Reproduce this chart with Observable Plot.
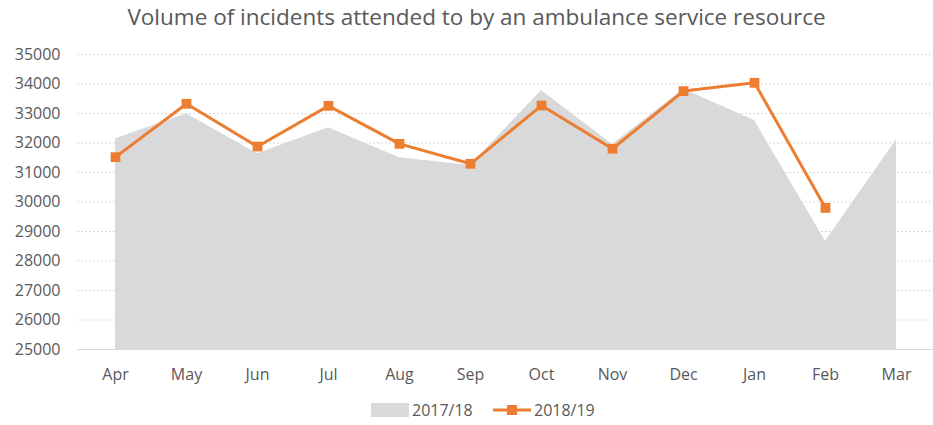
<!DOCTYPE html>
<html><head><meta charset="utf-8">
<script src="https://cdn.jsdelivr.net/npm/d3@7"></script>
<script src="https://cdn.jsdelivr.net/npm/@observablehq/plot@0.6"></script>
<style>
body{margin:0;background:#fff;font-family:"Open Sans",sans-serif;color:#595959;}
#wrap{width:933px;height:425px;position:relative;overflow:hidden;}
#title{height:38px;line-height:33px;font-size:22.5px;text-align:center;padding-left:20px;box-sizing:border-box;width:933px;white-space:nowrap;}
#legend{position:absolute;top:400px;left:0;width:933px;font-size:16px;}
.lg{position:absolute;top:0;display:flex;align-items:center;height:20px;}
</style></head>
<body><div id="wrap"><div id="title">Volume of incidents attended to by an ambulance service resource</div><div id="chart"></div>
<div id="legend"></div></div>
<script>
const months = ["Apr","May","Jun","Jul","Aug","Sep","Oct","Nov","Dec","Jan","Feb","Mar"];
const series2017 = [32140,32990,31635,32515,31500,31240,33780,31950,33820,32760,28670,32110];
const series2018 = [31520,33330,31880,33260,31970,31295,33270,31805,33760,34040,29800,null];
const yTicks = [25000,26000,27000,28000,29000,30000,31000,32000,33000,34000,35000];
const seriesNames = ["2017/18","2018/19"];
const colors = ["#d9d9d9","#ed7d31"];

const d17 = months.map((m,i)=>({month:m, value:series2017[i]}));
const d18 = months.map((m,i)=>({month:m, value:series2018[i]})).filter(d=>d.value!=null);
const yMin = yTicks[0], yMax = yTicks[yTicks.length-1];

const chart = Plot.plot({
  width:933, height:352,
  marginTop:16, marginBottom:41, marginLeft:77, marginRight:0,
  style:{fontFamily:'"Open Sans",sans-serif', fontSize:"16px", color:"#595959", background:"#fff"},
  x:{type:"point", domain:months, padding:0.5, label:null},
  y:{domain:[yMin,yMax], label:null},
  marks:[
    Plot.gridY(yTicks.slice(1), {stroke:"#d9d9d9", strokeOpacity:1, strokeDasharray:"2,2", strokeWidth:1}),
    Plot.areaY(d17, {x:"month", y1:()=>yMin, y2:"value", fill:colors[0], fillOpacity:1}),
    Plot.ruleY([yMin], {stroke:"#d9d9d9", strokeWidth:1}),
    Plot.lineY(d18, {x:"month", y:"value", stroke:colors[1], strokeWidth:3}),
    Plot.dot(d18, {x:"month", y:"value", symbol:"square", r:5.5, fill:colors[1], stroke:"none"}),
    Plot.axisX({tickSize:0, tickPadding:19, fill:"#595959", fontSize:16}),
    Plot.axisY({ticks:yTicks, tickSize:0, tickPadding:17, fill:"#595959", fontSize:16, tickFormat:d=>String(d)})
  ]
});
document.getElementById("chart").appendChild(chart);

const lg = document.getElementById("legend");
lg.innerHTML = `<div class="lg" style="left:371px"><span style="display:inline-block;width:38px;height:14px;background:${colors[0]};margin-right:3px"></span>${seriesNames[0]}</div>
<div class="lg" style="left:493px"><svg width="38" height="14" style="margin-right:3px"><line x1="0" y1="7" x2="38" y2="7" stroke="${colors[1]}" stroke-width="3"/><rect x="14" y="2" width="10" height="10" fill="${colors[1]}"/></svg>${seriesNames[1]}</div>`;
</script></body></html>
